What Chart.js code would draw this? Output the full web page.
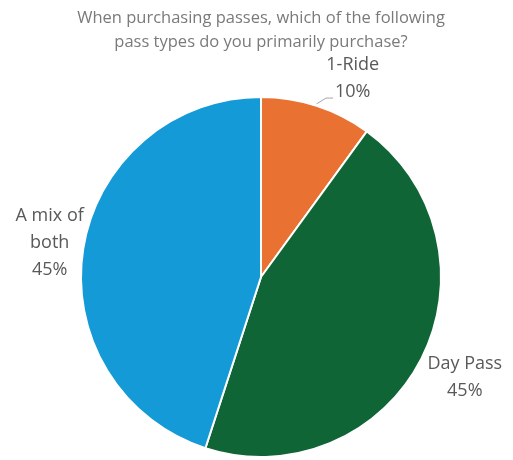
<!DOCTYPE html>
<html>
<head>
<meta charset="utf-8">
<script src="https://cdn.jsdelivr.net/npm/chart.js@4/dist/chart.umd.min.js"></script>
<style>
  html, body { margin: 0; padding: 0; background: #fff; }
  #wrap { width: 513px; height: 460px; position: relative; }
</style>
</head>
<body>
<div id="wrap"><canvas id="c" width="513" height="460"></canvas></div>
<script>
// Survey answers: share of respondents by pass type
const titleLines = ['When purchasing passes, which of the following', 'pass types do you primarily purchase?'];
const categories = ['1-Ride', 'Day Pass', 'A mix of both'];
const shares = [10, 45, 45];
// Label lines shown next to each slice (name wrapped as displayed)
const labelNames = [['1-Ride'], ['Day Pass'], ['A mix of', 'both']];

const sliceColors = ['#E97132', '#106536', '#149AD6'];
const FONT = '"Open Sans", "Noto Sans", sans-serif';

// Title drawn above the pie
const titlePlugin = {
  id: 'titleText',
  afterDraw(chart) {
    const ctx = chart.ctx;
    ctx.save();
    ctx.fillStyle = '#7a7a7a';
    ctx.font = '16.5px ' + FONT;
    ctx.textAlign = 'center';
    ctx.textBaseline = 'middle';
    titleLines.forEach((t, i) => ctx.fillText(t, 261, 18 + i * 24));
    ctx.restore();
  }
};

// Outside data labels placed along each slice's mid angle, with a leader line when nudged
const outsideLabels = {
  id: 'outsideLabels',
  afterDatasetsDraw(chart, args, opts) {
    const ctx = chart.ctx;
    const meta = chart.getDatasetMeta(0);
    ctx.save();
    ctx.font = '18px ' + FONT;
    ctx.textAlign = 'center';
    ctx.textBaseline = 'middle';
    meta.data.forEach((arc, i) => {
      const p = arc.getProps(['x', 'y', 'startAngle', 'endAngle', 'outerRadius'], true);
      const mid = (p.startAngle + p.endAngle) / 2;
      const d = p.outerRadius + opts.gap[i];
      const nudge = opts.nudge[i];
      const cx = p.x + Math.cos(mid) * d + nudge[0];
      const cy = p.y + Math.sin(mid) * d + nudge[1];
      const pct = Math.round(shares[i] / shares.reduce((a, b) => a + b, 0) * 100) + '%';
      const lines = labelNames[i].concat([pct]);
      const lh = 27;
      const top = cy - (lines.length - 1) * lh / 2;
      ctx.fillStyle = '#595959';
      lines.forEach((t, k) => ctx.fillText(t, cx, top + k * lh));
      if (opts.leader[i]) {
        const ex = p.x + Math.cos(mid) * p.outerRadius;
        const ey = p.y + Math.sin(mid) * p.outerRadius;
        const lastY = top + (lines.length - 1) * lh;
        const tw = ctx.measureText(lines[lines.length - 1]).width;
        const lx = cx - tw / 2 - 2;
        ctx.strokeStyle = '#a6a6a6';
        ctx.lineWidth = 1;
        ctx.beginPath();
        ctx.moveTo(ex, ey - 2);
        ctx.lineTo(lx - 7, lastY + 6);
        ctx.lineTo(lx, lastY + 6);
        ctx.stroke();
      }
    });
    ctx.restore();
  }
};

new Chart(document.getElementById('c'), {
  type: 'pie',
  data: {
    labels: categories,
    datasets: [{
      data: shares,
      backgroundColor: sliceColors,
      borderColor: '#ffffff',
      borderWidth: 2
    }]
  },
  options: {
    responsive: false,
    animation: false,
    layout: { padding: { top: 96, left: 80, right: 71, bottom: 2 } },
    plugins: {
      legend: { display: false },
      title: { display: false },
      tooltip: { enabled: false },
      outsideLabels: {
        gap: [36, 42, 38],
        nudge: [[25, 7], [6, 0], [4, 0]],
        leader: [true, false, false]
      }
    }
  },
  plugins: [titlePlugin, outsideLabels]
});
</script>
</body>
</html>
